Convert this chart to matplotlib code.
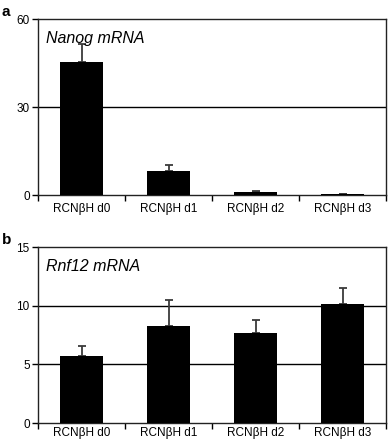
import matplotlib
matplotlib.use("Agg")
import matplotlib.pyplot as plt
import numpy as np

categories = ["RCNβH d0", "RCNβH d1", "RCNβH d2", "RCNβH d3"]
nanog_values = [45.3, 8.2, 0.9, 0.3]
nanog_err = [6.2, 2.0, 0.3, 0.1]
rnf12_values = [5.75, 8.3, 7.7, 10.1]
rnf12_err = [0.8, 2.2, 1.1, 1.4]

plt.rcParams['font.family'] = ['Liberation Sans', 'DejaVu Sans']

W, H = 388, 443
fig = plt.figure(figsize=(W/100, H/100), dpi=100)

def make_ax(top_px, bottom_px, values, errs, ymax, yticks, grid, title, letter, xpad):
    left, right = 38, 386
    ax = fig.add_axes([left/W, 1-bottom_px/H, (right-left)/W, (bottom_px-top_px)/H])
    x = np.arange(len(values))
    ax.bar(x, values, width=0.5, color='black', zorder=3)
    ax.errorbar(x, values, yerr=[np.zeros(len(errs)), errs], fmt='none',
                ecolor='#3a3a3a', elinewidth=1.3, capsize=3, capthick=1.3, zorder=2)
    for g in grid:
        ax.axhline(g, color='black', lw=1.0, zorder=1)
    ax.set_xlim(-0.5, len(values)-0.5)
    ax.set_ylim(0, ymax)
    ax.set_yticks(yticks)
    ax.set_yticklabels([str(t) for t in yticks], fontsize=8.5)
    ax.set_xticks(np.arange(len(values)+1)-0.5)
    ax.set_xticklabels([])
    ax.set_xticks(x, minor=True)
    ax.set_xticklabels(categories, minor=True, fontsize=8.5)
    ax.tick_params(axis='x', which='minor', length=0, pad=xpad)
    ax.tick_params(axis='x', which='major', length=4, direction='out', width=1)
    ax.tick_params(axis='y', length=4, direction='out', width=1, pad=2)
    for s in ax.spines.values():
        s.set_linewidth(1.0)
        s.set_color('#222222')
    ax.text(0.024, 0.93, title, transform=ax.transAxes, fontsize=11.5,
            style='italic', va='top', ha='left')
    fig.text(2/W, 1-(top_px-7)/H, letter, fontsize=11, fontweight='bold',
             va='center', ha='left')
    return ax

make_ax(19, 195, nanog_values, nanog_err, 60, [0, 30, 60], [30], "Nanog mRNA", "a", 6)
make_ax(247, 423, rnf12_values, rnf12_err, 15, [0, 5, 10, 15], [5, 10], "Rnf12 mRNA", "b", 3)

fig.savefig("out.png", dpi=100)
